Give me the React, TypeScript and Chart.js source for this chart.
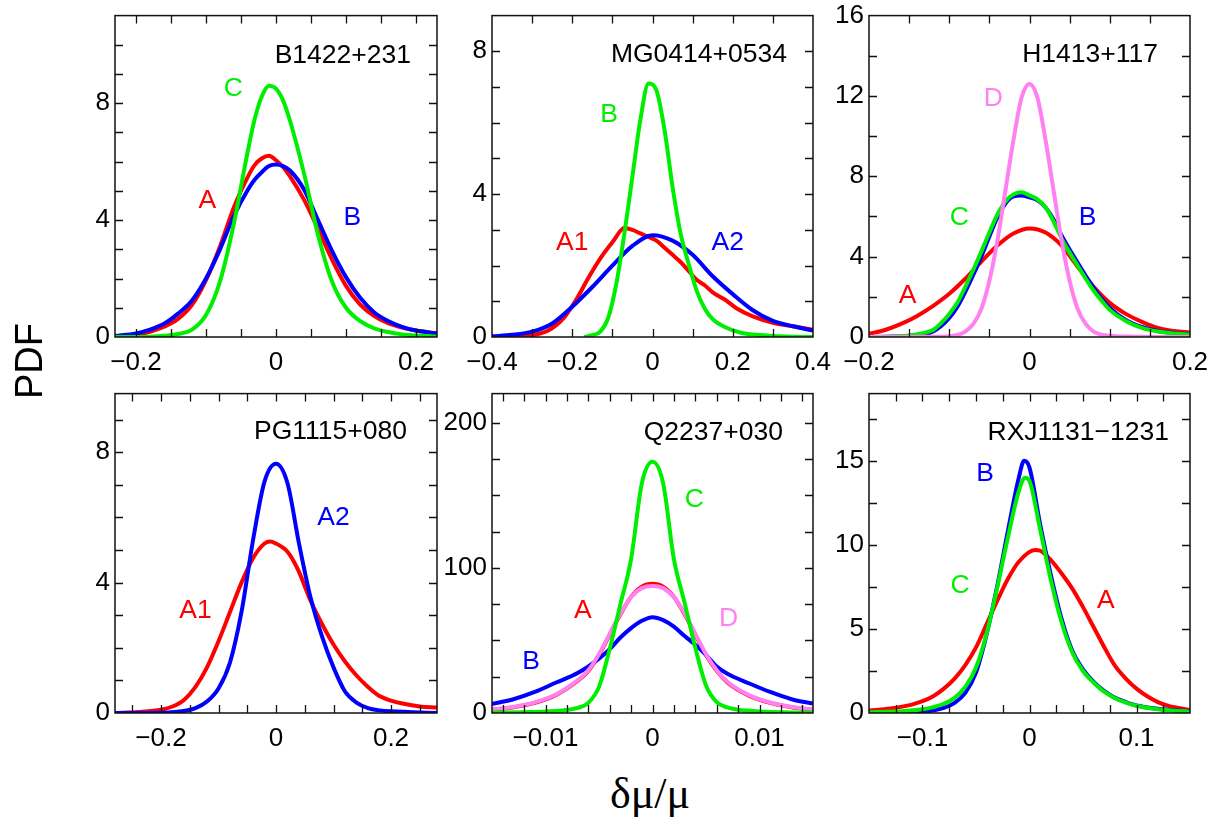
import React, { useEffect, useRef } from 'react';
import { Chart, registerables } from 'chart.js';
Chart.register(...registerables);

// ---------------- Colours ----------------
const RED = '#ff0000';
const BLUE = '#0000ff';
const GREEN = '#00ee00';
const PINK = '#ff80f0';

// ---------------- Panel 1: B1422+231 ----------------
const p1X = [-0.23, -0.2, -0.18, -0.16, -0.14, -0.12, -0.1, -0.08, -0.06, -0.04, -0.03, -0.02, -0.01, 0, 0.01, 0.02, 0.04, 0.06, 0.08, 0.1, 0.12, 0.14, 0.16, 0.18, 0.2, 0.23];
const p1A = [0.03, 0.08, 0.18, 0.35, 0.62, 1.1, 1.95, 3.1, 4.45, 5.5, 5.9, 6.12, 6.2, 6.05, 5.82, 5.5, 4.7, 3.7, 2.65, 1.75, 1.12, 0.72, 0.47, 0.32, 0.22, 0.13];
const p1B = [0.03, 0.12, 0.25, 0.45, 0.8, 1.25, 2.0, 3.0, 4.15, 5.05, 5.4, 5.65, 5.85, 5.9, 5.85, 5.7, 5.05, 4.0, 2.95, 2.05, 1.35, 0.85, 0.55, 0.35, 0.22, 0.12];
const p1C = [0, 0, 0.01, 0.04, 0.1, 0.25, 0.75, 1.9, 3.9, 6.4, 7.5, 8.25, 8.6, 8.5, 8.1, 7.4, 5.6, 3.5, 1.9, 1.0, 0.55, 0.3, 0.17, 0.09, 0.05, 0.02];
const p1XTicks = [-0.2, 0, 0.2];
const p1YTicks = [0, 4, 8];
const p1XMinor = [-0.2, -0.15, -0.1, -0.05, 0, 0.05, 0.1, 0.15, 0.2];
const p1YMinor = [1, 2, 3, 4, 5, 6, 7, 8, 9, 10];

// ---------------- Panel 2: MG0414+0534 ----------------
const p2XA1 = [-0.4, -0.35, -0.3, -0.26, -0.22, -0.19, -0.16, -0.13, -0.1, -0.07, -0.05, -0.03, -0.01, 0.01, 0.03, 0.05, 0.07, 0.09, 0.11, 0.13, 0.15, 0.18, 0.21, 0.25, 0.3, 0.35, 0.4];
const p2A1 = [0.0, 0.01, 0.05, 0.18, 0.55, 1.05, 1.65, 2.2, 2.65, 3.05, 3.0, 2.9, 2.8, 2.7, 2.5, 2.3, 2.1, 1.85, 1.6, 1.45, 1.25, 1.05, 0.8, 0.58, 0.4, 0.3, 0.2];
const p2XA2 = [-0.4, -0.35, -0.3, -0.25, -0.2, -0.15, -0.1, -0.05, 0, 0.05, 0.1, 0.15, 0.2, 0.25, 0.3, 0.35, 0.4];
const p2A2 = [0.02, 0.06, 0.15, 0.38, 0.85, 1.4, 2.0, 2.55, 2.85, 2.7, 2.3, 1.7, 1.2, 0.75, 0.45, 0.3, 0.18];
const p2XB = [-0.17, -0.15, -0.13, -0.11, -0.09, -0.07, -0.05, -0.03, -0.01, 0.01, 0.03, 0.05, 0.07, 0.09, 0.11, 0.13, 0.15, 0.18, 0.22, 0.26, 0.3, 0.35, 0.4];
const p2B = [0.0, 0.05, 0.15, 0.55, 1.5, 2.9, 4.5, 6.1, 7.1, 6.9, 5.8, 4.2, 2.9, 2.05, 1.3, 0.8, 0.5, 0.28, 0.12, 0.06, 0.03, 0.01, 0.0];
const p2XTicks = [-0.4, -0.2, 0, 0.2, 0.4];
const p2YTicks = [0, 4, 8];
const p2XMinor = [-0.3, -0.2, -0.1, 0, 0.1, 0.2, 0.3];
const p2YMinor = [1, 2, 3, 4, 5, 6, 7, 8];

// ---------------- Panel 3: H1413+117 ----------------
const p3XA = [-0.2, -0.18, -0.16, -0.14, -0.12, -0.1, -0.08, -0.06, -0.04, -0.02, 0, 0.02, 0.04, 0.06, 0.08, 0.1, 0.12, 0.14, 0.16, 0.18, 0.2];
const p3A = [0.16, 0.35, 0.65, 1.05, 1.55, 2.15, 2.9, 3.75, 4.55, 5.15, 5.4, 5.2, 4.55, 3.5, 2.5, 1.7, 1.15, 0.75, 0.45, 0.3, 0.22];
const p3XBC = [-0.2, -0.17, -0.15, -0.13, -0.12, -0.11, -0.1, -0.09, -0.08, -0.07, -0.06, -0.05, -0.04, -0.03, -0.02, -0.01, 0, 0.01, 0.02, 0.03, 0.04, 0.05, 0.06, 0.07, 0.08, 0.09, 0.1, 0.12, 0.14, 0.16, 0.18, 0.2];
const p3B = [0.0, 0.02, 0.05, 0.15, 0.28, 0.55, 0.95, 1.5, 2.25, 3.1, 4.0, 5.0, 5.95, 6.65, 7.0, 7.05, 6.95, 6.8, 6.45, 5.85, 5.05, 4.35, 3.7, 3.05, 2.45, 1.9, 1.45, 0.85, 0.5, 0.3, 0.2, 0.13];
const p3C = [0.0, 0.03, 0.08, 0.22, 0.35, 0.7, 1.15, 1.7, 2.5, 3.35, 4.25, 5.2, 6.1, 6.75, 7.1, 7.2, 7.05, 6.85, 6.45, 5.75, 4.9, 4.2, 3.55, 2.9, 2.3, 1.8, 1.35, 0.8, 0.45, 0.27, 0.18, 0.12];
const p3XD = [-0.2, -0.12, -0.1, -0.09, -0.08, -0.07, -0.06, -0.05, -0.04, -0.03, -0.02, -0.01, 0, 0.01, 0.02, 0.03, 0.04, 0.05, 0.06, 0.07, 0.08, 0.09, 0.1, 0.12, 0.2];
const p3D = [0, 0.01, 0.04, 0.1, 0.27, 0.65, 1.4, 2.8, 4.8, 7.3, 9.8, 11.9, 12.6, 11.9, 9.8, 7.3, 4.8, 2.8, 1.4, 0.65, 0.27, 0.12, 0.06, 0.02, 0];
const p3XTicks = [-0.2, 0, 0.2];
const p3YTicks = [0, 4, 8, 12, 16];
const p3XMinor = [-0.15, -0.1, -0.05, 0, 0.05, 0.1, 0.15];
const p3YMinor = [2, 4, 6, 8, 10, 12, 14];

// ---------------- Panel 4: PG1115+080 ----------------
const p4XA1 = [-0.28, -0.24, -0.2, -0.18, -0.16, -0.14, -0.12, -0.1, -0.08, -0.06, -0.04, -0.02, -0.01, 0, 0.01, 0.02, 0.03, 0.04, 0.06, 0.08, 0.1, 0.12, 0.14, 0.16, 0.18, 0.2, 0.22, 0.25, 0.28];
const p4A1 = [0.0, 0.03, 0.1, 0.2, 0.4, 0.8, 1.4, 2.2, 3.1, 4.0, 4.75, 5.2, 5.26, 5.2, 5.1, 4.95, 4.68, 4.33, 3.45, 2.73, 2.1, 1.58, 1.15, 0.8, 0.52, 0.38, 0.29, 0.2, 0.17];
const p4XA2 = [-0.28, -0.2, -0.16, -0.14, -0.12, -0.1, -0.08, -0.06, -0.04, -0.02, 0, 0.02, 0.04, 0.06, 0.08, 0.1, 0.12, 0.14, 0.16, 0.18, 0.2, 0.28];
const p4A2 = [0, 0.01, 0.06, 0.15, 0.35, 0.75, 1.55, 3.1, 5.3, 7.1, 7.65, 7.05, 5.2, 3.55, 2.35, 1.4, 0.66, 0.32, 0.15, 0.08, 0.05, 0];
const p4XTicks = [-0.2, 0, 0.2];
const p4YTicks = [0, 4, 8];
const p4XMinor = [-0.25, -0.2, -0.15, -0.1, -0.05, 0, 0.05, 0.1, 0.15, 0.2, 0.25];
const p4YMinor = [1, 2, 3, 4, 5, 6, 7, 8, 9];

// ---------------- Panel 5: Q2237+030 ----------------
const p5XA = [-0.015, -0.013, -0.011, -0.009, -0.007, -0.006, -0.005, -0.004, -0.003, -0.002, -0.001, 0, 0.001, 0.002, 0.003, 0.004, 0.005, 0.006, 0.007, 0.009, 0.011, 0.013, 0.015];
const p5A = [2.3, 4, 7, 12.5, 22, 29, 40, 54, 68, 80, 87, 89, 87, 80, 68, 54, 40, 29, 21, 12, 7, 4, 2.3];
const p5D = [2.5, 4.2, 7.3, 12.8, 22.5, 29.5, 40.5, 54.5, 68.5, 80, 86, 87.5, 86, 80, 68.5, 54.5, 40.5, 29.5, 21.5, 12.3, 7.2, 4.2, 2.5];
const p5XB = [-0.015, -0.013, -0.011, -0.009, -0.007, -0.005, -0.004, -0.003, -0.002, -0.001, 0, 0.001, 0.002, 0.003, 0.004, 0.005, 0.006, 0.007, 0.009, 0.011, 0.013, 0.015];
const p5B = [6.2, 9.5, 14.5, 21, 27.5, 37.5, 44, 52, 58.5, 63.5, 66, 64, 59.5, 53, 47, 40, 32, 27, 20.5, 14.5, 9.5, 6.5];
const p5XC = [-0.015, -0.012, -0.01, -0.008, -0.007, -0.006, -0.005, -0.004, -0.003, -0.002, -0.001, 0, 0.001, 0.002, 0.003, 0.004, 0.005, 0.006, 0.007, 0.008, 0.01, 0.012, 0.015];
const p5C = [0.3, 0.6, 1.0, 2.0, 3.5, 7, 18, 44, 75, 106, 158, 173, 158, 106, 76, 45, 19, 7.5, 3.8, 2.2, 1.1, 0.6, 0.3];
const p5XTicks = [-0.01, 0, 0.01];
const p5YTicks = [0, 100, 200];
const p5XMinor = [-0.014, -0.012, -0.01, -0.008, -0.006, -0.004, -0.002, 0, 0.002, 0.004, 0.006, 0.008, 0.01, 0.012, 0.014];
const p5YMinor = [25, 50, 75, 100, 125, 150, 175, 200];

// ---------------- Panel 6: RXJ1131-1231 ----------------
const p6XA = [-0.15, -0.13, -0.11, -0.1, -0.09, -0.08, -0.07, -0.06, -0.05, -0.04, -0.03, -0.02, -0.01, 0.005, 0.01, 0.02, 0.03, 0.04, 0.05, 0.06, 0.07, 0.08, 0.09, 0.1, 0.11, 0.12, 0.13, 0.15];
const p6A = [0.15, 0.27, 0.5, 0.7, 1.0, 1.45, 2.05, 2.85, 3.9, 5.3, 6.7, 8.0, 9.0, 9.7, 9.65, 9.1, 8.3, 7.4, 6.3, 5.1, 3.9, 2.8, 2.05, 1.45, 1.0, 0.65, 0.42, 0.18];
const p6XB = [-0.15, -0.12, -0.1, -0.09, -0.08, -0.07, -0.06, -0.05, -0.04, -0.03, -0.02, -0.01, -0.005, 0, 0.01, 0.02, 0.03, 0.04, 0.05, 0.06, 0.07, 0.08, 0.09, 0.1, 0.12, 0.15];
const p6B = [0, 0.03, 0.08, 0.15, 0.3, 0.6, 1.2, 2.4, 4.7, 7.6, 10.9, 14.0, 15.0, 14.6, 11.2, 8.2, 5.6, 3.7, 2.6, 1.85, 1.3, 0.9, 0.65, 0.45, 0.25, 0.1];
const p6XC = [-0.15, -0.12, -0.1, -0.09, -0.08, -0.07, -0.06, -0.05, -0.04, -0.03, -0.02, -0.01, -0.004, 0, 0.01, 0.02, 0.03, 0.04, 0.05, 0.06, 0.07, 0.08, 0.09, 0.1, 0.12, 0.15];
const p6C = [0.05, 0.1, 0.22, 0.35, 0.55, 0.9, 1.55, 2.7, 4.75, 7.5, 10.5, 13.2, 14.0, 13.8, 10.9, 7.9, 5.4, 3.6, 2.5, 1.8, 1.25, 0.88, 0.62, 0.43, 0.22, 0.08];
const p6XTicks = [-0.1, 0, 0.1];
const p6YTicks = [0, 5, 10, 15];
const p6XMinor = [-0.125, -0.1, -0.075, -0.05, -0.025, 0, 0.025, 0.05, 0.075, 0.1, 0.125];
const p6YMinor = [2.5, 5, 7.5, 10, 12.5, 15, 17.5];

// ---------------- Panel definitions ----------------
type Series = { x: number[]; y: number[]; color: string };
type Lbl = { text: string; x: number; y: number; color: string };
type PanelCfg = {
  title: string;
  titleInset: number;
  titleDrop: number;
  xRange: [number, number];
  yRange: [number, number];
  xTicks: number[];
  yTicks: number[];
  xMinor: number[];
  yMinor: number[];
  series: Series[]; // drawn in order (last on top)
  labels: Lbl[];
  box: [number, number, number, number]; // plot area L, T, R, B (page px)
};

const panels: PanelCfg[] = [
  {
    title: 'B1422+231', titleInset: 26, titleDrop: 40,
    xRange: [-0.23, 0.23], yRange: [0, 11],
    xTicks: p1XTicks, yTicks: p1YTicks, xMinor: p1XMinor, yMinor: p1YMinor,
    series: [
      { x: p1X, y: p1A, color: RED },
      { x: p1X, y: p1B, color: BLUE },
      { x: p1X, y: p1C, color: GREEN },
    ],
    labels: [
      { text: 'C', x: -0.061, y: 8.5, color: GREEN },
      { text: 'A', x: -0.098, y: 4.65, color: RED },
      { text: 'B', x: 0.109, y: 4.1, color: BLUE },
    ],
    box: [115, 15, 437, 337],
  },
  {
    title: 'MG0414+0534', titleInset: 26, titleDrop: 39,
    xRange: [-0.4, 0.4], yRange: [0, 9],
    xTicks: p2XTicks, yTicks: p2YTicks, xMinor: p2XMinor, yMinor: p2YMinor,
    series: [
      { x: p2XA1, y: p2A1, color: RED },
      { x: p2XA2, y: p2A2, color: BLUE },
      { x: p2XB, y: p2B, color: GREEN },
    ],
    labels: [
      { text: 'B', x: -0.108, y: 6.22, color: GREEN },
      { text: 'A1', x: -0.2, y: 2.63, color: RED },
      { text: 'A2', x: 0.1875, y: 2.63, color: BLUE },
    ],
    box: [492, 15, 813, 337],
  },
  {
    title: 'H1413+117', titleInset: 32, titleDrop: 39,
    xRange: [-0.2, 0.2], yRange: [0, 16],
    xTicks: p3XTicks, yTicks: p3YTicks, xMinor: p3XMinor, yMinor: p3YMinor,
    series: [
      { x: p3XA, y: p3A, color: RED },
      { x: p3XBC, y: p3B, color: BLUE },
      { x: p3XBC, y: p3C, color: GREEN },
      { x: p3XD, y: p3D, color: PINK },
    ],
    labels: [
      { text: 'D', x: -0.045, y: 11.87, color: PINK },
      { text: 'C', x: -0.0875, y: 5.96, color: GREEN },
      { text: 'B', x: 0.0725, y: 5.96, color: BLUE },
      { text: 'A', x: -0.152, y: 2.08, color: RED },
    ],
    box: [869, 15, 1190, 337],
  },
  {
    title: 'PG1115+080', titleInset: 30, titleDrop: 38,
    xRange: [-0.28, 0.28], yRange: [0, 9.8],
    xTicks: p4XTicks, yTicks: p4YTicks, xMinor: p4XMinor, yMinor: p4YMinor,
    series: [
      { x: p4XA1, y: p4A1, color: RED },
      { x: p4XA2, y: p4A2, color: BLUE },
    ],
    labels: [
      { text: 'A2', x: 0.1, y: 6.0, color: BLUE },
      { text: 'A1', x: -0.14, y: 3.15, color: RED },
    ],
    box: [115, 393, 437, 713],
  },
  {
    title: 'Q2237+030', titleInset: 30, titleDrop: 39,
    xRange: [-0.015, 0.015], yRange: [0, 220],
    xTicks: p5XTicks, yTicks: p5YTicks, xMinor: p5XMinor, yMinor: p5YMinor,
    series: [
      { x: p5XA, y: p5A, color: RED },
      { x: p5XB, y: p5B, color: BLUE },
      { x: p5XA, y: p5D, color: PINK },
      { x: p5XC, y: p5C, color: GREEN },
    ],
    labels: [
      { text: 'C', x: 0.0039, y: 146.8, color: GREEN },
      { text: 'A', x: -0.0065, y: 70.8, color: RED },
      { text: 'D', x: 0.0071, y: 65.1, color: PINK },
      { text: 'B', x: -0.01134, y: 35.4, color: BLUE },
    ],
    box: [492, 393, 813, 713],
  },
  {
    title: 'RXJ1131\u22121231', titleInset: 21, titleDrop: 39,
    xRange: [-0.15, 0.15], yRange: [0, 19],
    xTicks: p6XTicks, yTicks: p6YTicks, xMinor: p6XMinor, yMinor: p6YMinor,
    series: [
      { x: p6XA, y: p6A, color: RED },
      { x: p6XB, y: p6B, color: BLUE },
      { x: p6XC, y: p6C, color: GREEN },
    ],
    labels: [
      { text: 'B', x: -0.0416, y: 14.26, color: BLUE },
      { text: 'C', x: -0.0648, y: 7.6, color: GREEN },
      { text: 'A', x: 0.0713, y: 6.66, color: RED },
    ],
    box: [869, 393, 1190, 713],
  },
];

// ---------------- Layout constants ----------------
const AXIS_W = 70;
const AXIS_H = 45;
const PAD_T = 20;
const PAD_R = 30;
const TICK_LEN = 8;
const FONT_FAMILY = '"Liberation Sans", Arial, Helvetica, sans-serif';
const TICK_FONT_SIZE = 26;
const LABEL_FONT = `26.5px ${FONT_FAMILY}`;

const fmt = (v: number) => (v === 0 ? '0' : String(v).replace('-', '\u2212'));

function makeFramePlugin(cfg: PanelCfg) {
  return {
    id: 'frameAndLabels',
    afterDatasetsDraw(chart: any) {
      const { ctx, chartArea: a, scales } = chart;
      const xs = scales.x;
      const ys = scales.y;
      ctx.save();
      ctx.strokeStyle = '#111';
      ctx.lineWidth = 1.3;
      ctx.beginPath();
      for (const v of cfg.xMinor) {
        const px = Math.round(xs.getPixelForValue(v)) + 0.5;
        ctx.moveTo(px, a.bottom);
        ctx.lineTo(px, a.bottom - TICK_LEN);
        ctx.moveTo(px, a.top);
        ctx.lineTo(px, a.top + TICK_LEN);
      }
      for (const v of cfg.yMinor) {
        const py = Math.round(ys.getPixelForValue(v)) + 0.5;
        ctx.moveTo(a.left, py);
        ctx.lineTo(a.left + TICK_LEN, py);
        ctx.moveTo(a.right, py);
        ctx.lineTo(a.right - TICK_LEN, py);
      }
      ctx.stroke();
      ctx.lineWidth = 1.5;
      ctx.strokeRect(a.left, a.top, a.right - a.left, a.bottom - a.top);

      ctx.font = LABEL_FONT;
      ctx.textAlign = 'center';
      ctx.textBaseline = 'middle';
      for (const l of cfg.labels) {
        ctx.fillStyle = l.color;
        ctx.fillText(l.text, xs.getPixelForValue(l.x), ys.getPixelForValue(l.y));
      }
      ctx.fillStyle = '#000';
      ctx.textAlign = 'right';
      ctx.fillText(cfg.title, a.right - cfg.titleInset, a.top + cfg.titleDrop);
      ctx.restore();
    },
  };
}

function Panel({ cfg }: { cfg: PanelCfg }) {
  const ref = useRef<HTMLCanvasElement | null>(null);
  const [L, T, R, B] = cfg.box;
  const width = R - L + AXIS_W + PAD_R;
  const height = B - T + PAD_T + AXIS_H;

  useEffect(() => {
    if (!ref.current) return;
    const datasets = cfg.series
      .map((s) => ({
        data: s.x.map((xv, i) => ({ x: xv, y: s.y[i] })),
        borderColor: s.color,
        backgroundColor: s.color,
        borderWidth: 4,
        pointRadius: 0,
        fill: false,
        cubicInterpolationMode: 'monotone' as const,
      }))
      .reverse(); // dataset 0 is drawn on top in Chart.js

    const tickFont = { family: FONT_FAMILY, size: TICK_FONT_SIZE };
    const chart = new Chart(ref.current, {
      type: 'line',
      data: { datasets },
      options: {
        animation: false,
        responsive: false,
        maintainAspectRatio: false,
        events: [],
        layout: { padding: { top: PAD_T, right: PAD_R, left: 0, bottom: 0 } },
        plugins: { legend: { display: false }, tooltip: { enabled: false } },
        scales: {
          x: {
            type: 'linear',
            min: cfg.xRange[0],
            max: cfg.xRange[1],
            grid: { display: false, drawTicks: false },
            border: { display: false },
            afterBuildTicks: (ax: any) => {
              ax.ticks = cfg.xTicks.map((v) => ({ value: v }));
            },
            afterFit: (ax: any) => {
              ax.height = AXIS_H;
            },
            ticks: {
              padding: 10,
              color: '#000',
              font: tickFont,
              maxRotation: 0,
              autoSkip: false,
              callback: (v: any) => fmt(Number(v)),
            },
          },
          y: {
            type: 'linear',
            min: cfg.yRange[0],
            max: cfg.yRange[1],
            grid: { display: false, drawTicks: false },
            border: { display: false },
            afterBuildTicks: (ax: any) => {
              ax.ticks = cfg.yTicks.map((v) => ({ value: v }));
            },
            afterFit: (ax: any) => {
              ax.width = AXIS_W;
            },
            ticks: {
              padding: 5,
              color: '#000',
              font: tickFont,
              autoSkip: false,
              callback: (v: any) => fmt(Number(v)),
            },
          },
        },
      },
      plugins: [makeFramePlugin(cfg)],
    } as any);
    return () => chart.destroy();
  }, [cfg]);

  return (
    <canvas
      ref={ref}
      width={width}
      height={height}
      style={{
        position: 'absolute',
        left: L - AXIS_W,
        top: T - PAD_T,
        width,
        height,
      }}
    />
  );
}

export default function App() {
  return (
    <div
      style={{
        position: 'fixed',
        left: 0,
        top: 0,
        width: 1207,
        height: 823,
        background: '#fff',
        overflow: 'hidden',
      }}
    >
      {panels.map((p, i) => (
        <Panel key={i} cfg={p} />
      ))}
      <div
        style={{
          position: 'absolute',
          left: 29 - 60,
          top: 361 - 19,
          width: 120,
          height: 38,
          lineHeight: '38px',
          textAlign: 'center',
          fontFamily: FONT_FAMILY,
          fontSize: 38,
          color: '#000',
          transform: 'rotate(-90deg)',
          transformOrigin: '50% 50%',
          whiteSpace: 'nowrap',
        }}
      >
        PDF
      </div>
      <div
        style={{
          position: 'absolute',
          left: 650 - 100,
          top: 772,
          width: 200,
          height: 44,
          lineHeight: '44px',
          textAlign: 'center',
          fontFamily: '"Liberation Serif", "Times New Roman", serif',
          fontSize: 44,
          color: '#000',
          whiteSpace: 'nowrap',
        }}
      >
        δμ/μ
      </div>
    </div>
  );
}
